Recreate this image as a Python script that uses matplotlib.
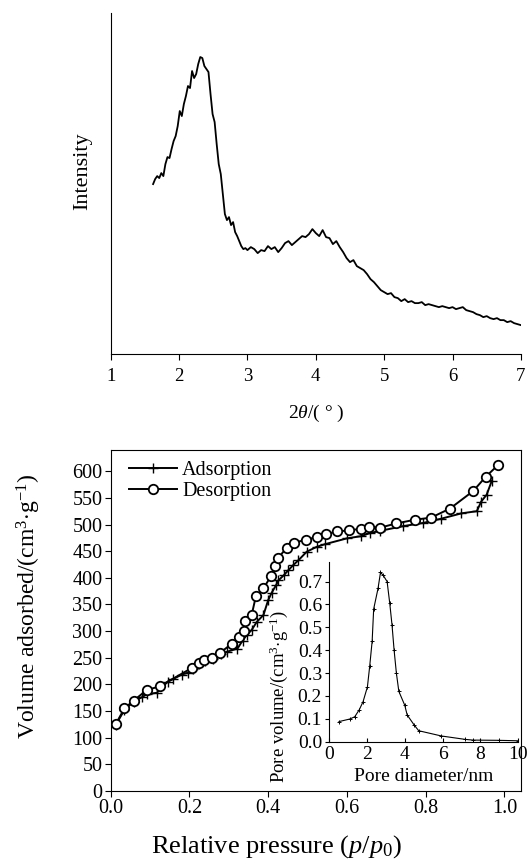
import matplotlib
matplotlib.use("Agg")
import matplotlib.pyplot as plt

plt.rcParams['font.family'] = ['Liberation Serif', 'DejaVu Serif']
plt.rcParams['mathtext.fontset'] = 'custom'
plt.rcParams['mathtext.rm'] = 'Liberation Serif'
plt.rcParams['mathtext.it'] = 'Liberation Serif:italic'

# ---- XRD data (2theta, intensity in arbitrary units) ----
xrd_2theta = [1.62, 1.65, 1.68, 1.71, 1.74, 1.77, 1.80, 1.83, 1.86, 1.89, 1.92, 1.95, 1.98, 2.01,
              2.04, 2.07, 2.10, 2.13, 2.16, 2.19, 2.22, 2.25, 2.28, 2.31, 2.34, 2.37, 2.40, 2.43,
              2.46, 2.49, 2.52, 2.55, 2.58, 2.61, 2.64, 2.67, 2.70, 2.73, 2.76, 2.79, 2.82, 2.85,
              2.88, 2.91, 2.94, 2.97, 3.00, 3.05, 3.10, 3.15, 3.20, 3.25, 3.30, 3.35, 3.40, 3.45,
              3.50, 3.55, 3.60, 3.65, 3.70, 3.75, 3.80, 3.85, 3.90, 3.95, 4.00, 4.05, 4.10, 4.15,
              4.20, 4.25, 4.30, 4.35, 4.40, 4.45, 4.50, 4.55, 4.60, 4.65, 4.70, 4.75, 4.80, 4.85,
              4.90, 4.95, 5.00, 5.05, 5.10, 5.15, 5.20, 5.25, 5.30, 5.35, 5.40, 5.45, 5.50, 5.55,
              5.60, 5.65, 5.70, 5.75, 5.80, 5.85, 5.90, 5.95, 6.00, 6.05, 6.10, 6.15, 6.20, 6.25,
              6.30, 6.35, 6.40, 6.45, 6.50, 6.55, 6.60, 6.65, 6.70, 6.75, 6.80, 6.85, 6.90, 6.95, 7.00]
xrd_intensity = [170, 175, 178, 176, 181, 178, 190, 197, 196, 205, 213, 218, 228, 243,
                 238, 250, 258, 268, 266, 283, 276, 280, 290, 297, 296, 288, 285, 282,
                 260, 240, 232, 210, 190, 180, 160, 140, 134, 137, 129, 132, 122, 118,
                 113, 108, 105, 106, 104, 107, 105, 101, 104, 103, 108, 105, 107, 102,
                 106, 111, 113, 109, 112, 115, 118, 117, 120, 125, 121, 118, 124, 117,
                 116, 110, 113, 107, 102, 96, 92, 94, 88, 86, 84, 80, 75, 72,
                 68, 64, 62, 60, 61, 57, 56, 53, 55, 52, 53, 51, 51, 52,
                 49, 50, 49, 48, 47, 48, 47, 46, 47, 45, 46, 47, 44, 43,
                 42, 40, 39, 37, 38, 36, 35, 36, 34, 34, 32, 33, 31, 30, 29]

# ---- N2 isotherm ----
ads_p = [0.013, 0.035, 0.058, 0.080, 0.091, 0.117, 0.145, 0.159, 0.180, 0.197, 0.210, 0.225,
         0.240, 0.260, 0.280, 0.295, 0.322, 0.335, 0.345, 0.358, 0.371, 0.388, 0.400, 0.409,
         0.420, 0.426, 0.440, 0.451, 0.464, 0.477, 0.498, 0.523, 0.544, 0.600, 0.635, 0.659,
         0.684, 0.743, 0.794, 0.840, 0.891, 0.930, 0.941, 0.955, 0.968]
ads_v = [124, 152, 167, 176, 181, 184, 205, 210, 218, 222, 229, 238,
         244, 248, 256, 261, 267, 282, 292, 302, 317, 330, 358, 372,
         386, 395, 405, 414, 424, 433, 449, 458, 463, 474, 478, 484,
         488, 497, 503, 511, 521, 525, 543, 556, 582]
des_p = [0.0135, 0.035, 0.058, 0.091, 0.124, 0.207, 0.223, 0.237, 0.258, 0.278, 0.307, 0.327,
         0.339, 0.341, 0.358, 0.369, 0.388, 0.407, 0.417, 0.426, 0.447, 0.466, 0.495, 0.525,
         0.547, 0.576, 0.606, 0.635, 0.655, 0.684, 0.725, 0.773, 0.814, 0.862, 0.921, 0.953, 0.983]
des_v = [126, 155, 169, 189, 196, 231, 240, 246, 250, 259, 276, 289,
         300, 319, 330, 366, 380, 403, 422, 438, 456, 466, 471, 477,
         482, 487, 489, 492, 496, 494, 502, 509, 513, 530, 563, 590, 611]

# ---- Pore size distribution (inset) ----
pore_d = [0.53, 1.09, 1.36, 1.60, 1.80, 2.03, 2.15, 2.28, 2.36, 2.59, 2.72, 2.86, 3.07, 3.21,
          3.33, 3.44, 3.56, 3.69, 4.00, 4.13, 4.50, 4.74, 5.94, 7.21, 7.62, 8.98, 10.0]
pore_v = [0.088, 0.099, 0.109, 0.140, 0.175, 0.240, 0.330, 0.440, 0.580, 0.670, 0.740, 0.728,
          0.700, 0.605, 0.510, 0.400, 0.300, 0.220, 0.160, 0.117, 0.073, 0.048, 0.025, 0.010,
          0.007, 0.006, 0.004]

fig = plt.figure(figsize=(5.31, 8.68), dpi=100)

# ---------------- Top: XRD ----------------
ax1 = fig.add_axes([0.2085, 0.592, 0.7725, 0.393])
ax1.plot(xrd_2theta, xrd_intensity, color='black', lw=1.3)
ax1.set_xlim(1, 7)
ax1.set_ylim(0, 341)
ax1.spines['top'].set_visible(False)
ax1.spines['right'].set_visible(False)
ax1.set_yticks([])
ax1.set_xticks([1, 2, 3, 4, 5, 6, 7])
ax1.tick_params(axis='x', direction='out', length=4, labelsize=13.5, pad=6)
ax1.set_ylabel('Intensity', fontsize=16, labelpad=13)
ax1.yaxis.label.set_y(0.537)
ax1.set_xlabel(r'2$\mathit{θ}$/( $\degree$ )', fontsize=14, labelpad=13)

# ---------------- Bottom: isotherm ----------------
ax2 = fig.add_axes([0.2085, 0.089, 0.7725, 0.3926])
ax2.plot(ads_p, ads_v, color='black', lw=1.4, marker='+', ms=7, mew=1.0,
         label='Adsorption')
ax2.plot(des_p, des_v, color='black', lw=1.4, marker='o', ms=6.8, mew=1.3,
         mfc='white', label='Desorption')
ax2.set_xlim(0, 1.042)
ax2.set_ylim(0, 640)
ax2.set_xticks([0.0, 0.2, 0.4, 0.6, 0.8, 1.0])
ax2.set_xticklabels(['0.0', '0.2', '0.4', '0.6', '0.8', '1.0'])
ax2.set_yticks(list(range(0, 601, 50)))
ax2.tick_params(axis='both', direction='out', length=4, labelsize=14.5, pad=2)
ax2.set_ylabel(r'Volume adsorbed/(cm$^{3}$$\cdot$g$^{-1}$)', fontsize=17, labelpad=21)
ax2.yaxis.label.set_y(0.54)
ax2.set_xlabel(r'Relative pressure ($p$/$p_{0}$)', fontsize=19, labelpad=11)
ax2.xaxis.label.set_x(0.405)
leg = ax2.legend(loc='upper left', frameon=False, fontsize=14.5, handlelength=2.4,
                 handletextpad=0.25, labelspacing=0.1, borderaxespad=0.3,
                 bbox_to_anchor=(0.01, 1.01))

# ---------------- Inset: pore size distribution ----------------
ax3 = fig.add_axes([0.6196, 0.1455, 0.3564, 0.2075])
ax3.patch.set_alpha(0)
ax3.plot(pore_d, pore_v, color='black', lw=0.8, marker='+', ms=3.5, mew=0.7)
ax3.set_xlim(0, 10)
ax3.set_ylim(0, 0.7875)
ax3.spines['top'].set_visible(False)
ax3.spines['right'].set_visible(False)
ax3.set_xticks([0, 2, 4, 6, 8, 10])
ax3.set_yticks([0.0, 0.1, 0.2, 0.3, 0.4, 0.5, 0.6, 0.7])
ax3.set_yticklabels(['0.0', '0.1', '0.2', '0.3', '0.4', '0.5', '0.6', '0.7'])
ax3.tick_params(axis='x', direction='in', length=3, labelsize=14, pad=3)
ax3.tick_params(axis='y', direction='out', length=3, labelsize=14, pad=2)
ax3.set_xlabel('Pore diameter/nm', fontsize=14, labelpad=4)
ax3.set_ylabel(r'Pore volume/(cm$^{3}$$\cdot$g$^{-1}$)', fontsize=13.5)
ax3.yaxis.set_label_coords(-0.205, 0.25)

fig.savefig('out.png', dpi=100)
